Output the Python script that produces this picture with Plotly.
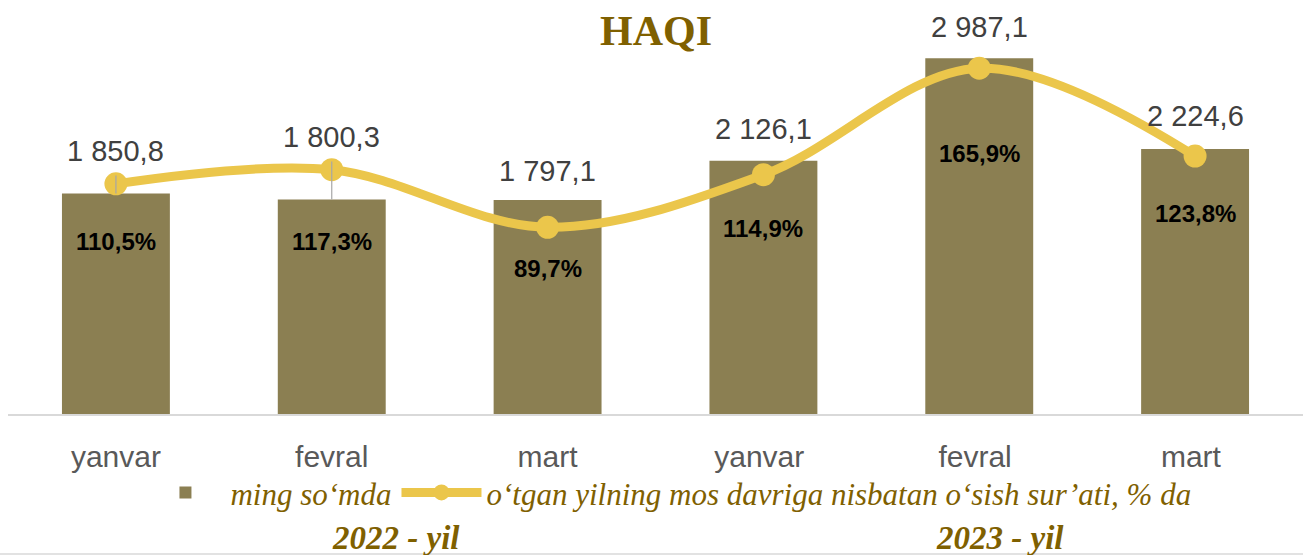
import plotly.graph_objects as go

categories = ["yanvar", "fevral", "mart", "yanvar ", "fevral ", "mart "]
values = [1850.8, 1800.3, 1797.1, 2126.1, 2987.1, 2224.6]
growth = [110.5, 117.3, 89.7, 114.9, 165.9, 123.8]
value_labels = ["1 850,8", "1 800,3", "1 797,1", "2 126,1", "2 987,1", "2 224,6"]
growth_labels = ["110,5%", "117,3%", "89,7%", "114,9%", "165,9%", "123,8%"]
year_labels = ["2022 - yil", "2023 - yil"]
series_names = ["ming so‘mda", "o‘tgan yilning mos davriga nisbatan o‘sish sur’ati, % da"]

BAR = "#8B7F52"
LINE = "#EBC64B"
GOLD = "#7F6000"

value_shift = [25, 45, 11, 14, 13, 15]
growth_shift = [-58, -72, -41, -54, -85, -57]
leader_len = [18, 38, 0, 0, 0, 0]

fig = go.Figure()
fig.add_trace(go.Bar(
    x=categories, y=values, name=series_names[0],
    marker=dict(color=BAR, line=dict(width=0)),
    yaxis="y",
))
fig.add_trace(go.Scatter(
    x=categories, y=growth, name=series_names[1], yaxis="y2",
    mode="lines+markers",
    line=dict(color=LINE, width=9, shape="spline", smoothing=1),
    marker=dict(color=LINE, size=23),
))

annotations = []
for c, v, t, s in zip(categories, values, value_labels, value_shift):
    annotations.append(dict(x=c, y=v, xref="x", yref="y", text=t, showarrow=False,
                            yanchor="bottom", yshift=s,
                            font=dict(family="Liberation Sans, Arial", size=29, color="#404040")))
for c, g, t, s in zip(categories, growth, growth_labels, growth_shift):
    annotations.append(dict(x=c, y=g, xref="x", yref="y2", text="<b>" + t + "</b>", showarrow=False,
                            yanchor="middle", yshift=s,
                            font=dict(family="Liberation Sans, Arial", size=24, color="#000000")))
for xp, t in zip([0.2996, 0.766], year_labels):
    annotations.append(dict(x=xp, y=-0.315, xref="paper", yref="paper", text="<b><i>" + t + "</i></b>",
                            showarrow=False, xanchor="center", yanchor="middle",
                            font=dict(family="Liberation Serif, Times New Roman", size=33, color=GOLD)))

shapes = [dict(type="line", xref="paper", yref="paper", x0=-0.01, x1=1.01, y0=-0.3553, y1=-0.3553,
               line=dict(color="#D9D9D9", width=1.5))]
for c, v, L in zip(categories, values, leader_len):
    if L > 0:
        shapes.append(dict(type="line", xref="x", yref="y", ysizemode="pixel", yanchor=v,
                           x0=c, x1=c, y0=0, y1=L, line=dict(color="#A6A6A6", width=1.2), layer="above"))

fig.update_layout(
    width=1303, height=555,
    margin=dict(l=8, r=0, t=20, b=141),
    paper_bgcolor="white", plot_bgcolor="white",
    title=dict(text="<b>HAQI</b>", x=0.5035, xref="container", y=0.946, yref="container",
               xanchor="center", yanchor="middle",
               font=dict(family="Liberation Serif, Times New Roman", size=42, color=GOLD)),
    bargap=0.5,
    showlegend=True,
    legend=dict(orientation="h", x=0.51, xanchor="center", y=-0.2, yanchor="middle",
                font=dict(family="Liberation Serif, Times New Roman", size=31, color=GOLD, style="italic"),
                bgcolor="rgba(0,0,0,0)", itemwidth=80),
    xaxis=dict(showline=True, linecolor="#D9D9D9", linewidth=2, showgrid=False,
               ticks="outside", ticklen=15, tickcolor="rgba(0,0,0,0)",
               tickfont=dict(family="Liberation Sans, Arial", size=30, color="#595959"),
               range=[-0.5, 5.5]),
    yaxis=dict(range=[0, 3308], visible=False, showgrid=False),
    yaxis2=dict(range=[0.24, 189.0], overlaying="y", side="right", visible=False, showgrid=False),
    annotations=annotations,
    shapes=shapes,
)

fig.write_html("out.html", config={"displayModeBar": False},
               post_script="document.body.style.margin='0';document.body.style.overflow='hidden';")
